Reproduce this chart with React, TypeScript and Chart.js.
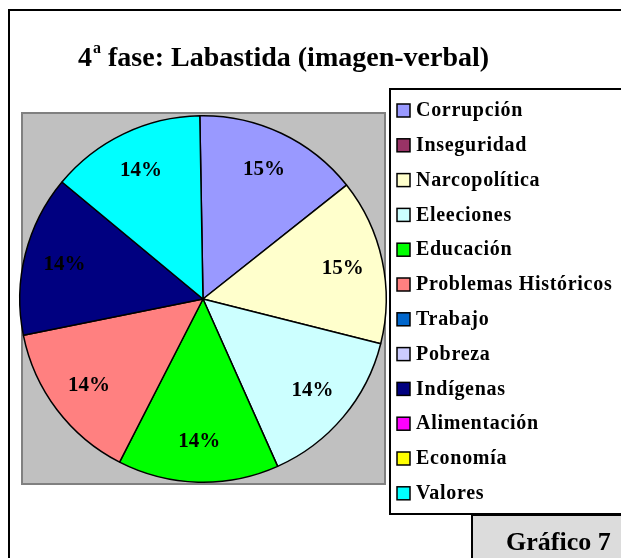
import React, { useEffect, useRef } from "react";
import { Chart, registerables } from "chart.js";

Chart.register(...registerables);

const categories = [
  "Corrupción",
  "Inseguridad",
  "Narcopolítica",
  "Eleeciones",
  "Educación",
  "Problemas Históricos",
  "Trabajo",
  "Pobreza",
  "Indígenas",
  "Alimentación",
  "Economía",
  "Valores",
];
const shares = [14.6, 0, 14.6, 14.4, 14.2, 14.3, 0, 0, 14.2, 0, 0, 13.7];
const colors = [
  "#9999FF",
  "#993366",
  "#FFFFCC",
  "#CCFFFF",
  "#00FF00",
  "#FF8080",
  "#0066CC",
  "#CCCCFF",
  "#000080",
  "#FF00FF",
  "#FFFF00",
  "#00FFFF",
];
const titleNumber = "4";
const titleSup = "a";
const titleRest = " fase: Labastida (imagen-verbal)";
const badgeText = "Gráfico 7";

const SERIF = '"Liberation Serif", "Times New Roman", serif';

const framePlugin = {
  id: "frame",
  beforeDraw(chart: any) {
    const ctx = chart.ctx as CanvasRenderingContext2D;
    ctx.save();
    ctx.fillStyle = "#ffffff";
    ctx.fillRect(0, 0, chart.width, chart.height);
    // outer border (left + top)
    ctx.strokeStyle = "#000000";
    ctx.lineWidth = 2;
    ctx.beginPath();
    ctx.moveTo(9, chart.height + 2);
    ctx.lineTo(9, 10);
    ctx.lineTo(chart.width + 2, 10);
    ctx.stroke();
    // plot area
    ctx.fillStyle = "#C0C0C0";
    ctx.fillRect(22, 113, 363, 371);
    ctx.strokeStyle = "#808080";
    ctx.lineWidth = 2;
    ctx.strokeRect(22, 113, 363, 371);
    // title
    ctx.fillStyle = "#000000";
    ctx.textBaseline = "alphabetic";
    ctx.textAlign = "left";
    (ctx as any).letterSpacing = "0px";
    ctx.font = `bold 28px ${SERIF}`;
    let x = 78;
    const y = 66;
    ctx.fillText(titleNumber, x, y);
    x += ctx.measureText(titleNumber).width + 1;
    ctx.font = `bold 16px ${SERIF}`;
    ctx.fillText(titleSup, x, y - 13);
    x += ctx.measureText(titleSup).width;
    ctx.font = `bold 28px ${SERIF}`;
    ctx.fillText(titleRest, x, y);
    ctx.restore();
  },
  afterDraw(chart: any) {
    const ctx = chart.ctx as CanvasRenderingContext2D;
    const meta = chart.getDatasetMeta(0);
    const data = chart.data.datasets[0].data as number[];
    const total = data.reduce((a: number, b: number) => a + b, 0);
    ctx.save();
    // percentage labels
    ctx.fillStyle = "#000000";
    ctx.font = `bold 21px ${SERIF}`;
    ctx.textAlign = "center";
    ctx.textBaseline = "middle";
    meta.data.forEach((arc: any, i: number) => {
      if (!data[i]) return;
      const p = arc.getProps(["x", "y", "startAngle", "endAngle", "outerRadius"], true);
      const mid = (p.startAngle + p.endAngle) / 2;
      const r = p.outerRadius * 0.78;
      const pct = Math.round((data[i] / total) * 100 + 1e-9) + "%";
      ctx.fillText(pct, p.x + Math.cos(mid) * r, p.y + Math.sin(mid) * r);
    });
    // legend box
    const lx = 390, ly = 89, lw = 232, lh = 425;
    ctx.fillStyle = "#ffffff";
    ctx.fillRect(lx, ly, lw, lh);
    ctx.strokeStyle = "#000000";
    ctx.lineWidth = 2;
    ctx.strokeRect(lx, ly, lw, lh);
    const labels = chart.data.labels as string[];
    const bg = chart.data.datasets[0].backgroundColor as string[];
    ctx.textAlign = "left";
    ctx.textBaseline = "middle";
    ctx.font = `bold 20px ${SERIF}`;
    (ctx as any).letterSpacing = "0.7px";
    labels.forEach((lab, i) => {
      const cy = 110 + i * 34.8;
      ctx.fillStyle = bg[i];
      ctx.fillRect(397, cy - 6, 13, 13);
      ctx.strokeStyle = "#000000";
      ctx.lineWidth = 1.5;
      ctx.strokeRect(397, cy - 6, 13, 13);
      ctx.fillStyle = "#000000";
      ctx.fillText(lab, 416, cy + 1);
    });
    // badge
    (ctx as any).letterSpacing = "0px";
    ctx.fillStyle = "#DCDCDC";
    ctx.fillRect(472, 515, 160, 60);
    ctx.strokeStyle = "#000000";
    ctx.lineWidth = 2;
    ctx.beginPath();
    ctx.moveTo(472, 570);
    ctx.lineTo(472, 515);
    ctx.lineTo(630, 515);
    ctx.stroke();
    ctx.fillStyle = "#000000";
    ctx.font = `bold 26px ${SERIF}`;
    ctx.textBaseline = "alphabetic";
    ctx.fillText(badgeText, 506, 550);
    ctx.restore();
  },
};

export default function App() {
  const ref = useRef<HTMLCanvasElement | null>(null);
  useEffect(() => {
    document.body.style.margin = "0";
    const canvas = ref.current;
    if (!canvas) return;
    const chart = new Chart(canvas, {
      type: "pie",
      data: {
        labels: categories,
        datasets: [
          {
            data: shares,
            backgroundColor: colors,
            borderColor: "#000000",
            borderWidth: 1.5,
          },
        ],
      },
      options: {
        responsive: false,
        animation: false,
        rotation: -1,
        layout: { padding: { left: 19, top: 115, right: 234, bottom: 75 } },
        plugins: {
          legend: { display: false },
          title: { display: false },
          tooltip: { enabled: false },
        },
      },
      plugins: [framePlugin],
    });
    return () => chart.destroy();
  }, []);
  return (
    <div style={{ position: "fixed", left: 0, top: 0, width: 621, height: 558 }}>
      <canvas ref={ref} width={621} height={558} style={{ width: 621, height: 558 }} />
    </div>
  );
}
